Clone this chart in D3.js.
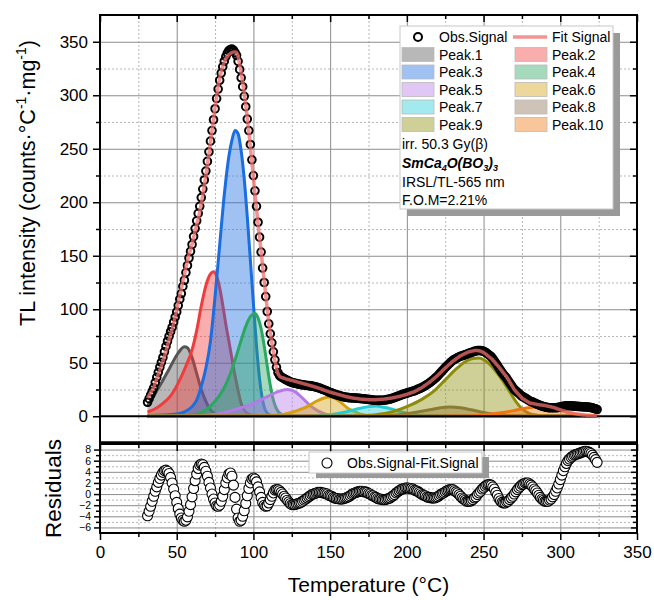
<!DOCTYPE html>
<html>
<head>
<meta charset="utf-8">
<script src="https://cdn.jsdelivr.net/npm/d3@7"></script>
<style>
  body { margin: 0; background: #fff; }
  svg { font-family: "Liberation Sans", Arial, sans-serif; }
</style>
</head>
<body>
<div id="chart"></div>
<script>
// TL glow curve, one reading per degree starting at 31 C
const tempStart = 31;

const obsSignal = [
  13.1,16.4,19.8,23.2,26.6,31.5,36.3,41.1,45.8,50.4,
  54.9,60.2,65.3,70.1,74.7,79,83,87.9,92.7,97.5,
  103.4,109.4,114.7,121.3,127.1,134.3,140.9,147.9,154.1,160.5,
  168,175.4,182.6,189.6,196.2,204.4,212.3,220.8,229.1,238.2,
  247.1,257.1,267,277.1,287.4,296.9,305.8,314,320.7,326.6,
  331.8,336,339.4,341.6,342.8,343.2,342.1,339.9,337.3,331.7,
  324.1,316.3,308,299,289.3,277.7,267,254,239.7,224.9,
  210.7,196.2,181.3,167.4,153.4,138.5,125,111.8,97.9,86.4,
  77,68.6,60.2,52.7,45.8,40.8,38.1,36.8,36,35.1,
  34.3,33.5,32.8,32.1,31.6,31.2,30.8,30.5,30.2,29.9,
  29.6,29.4,29.2,29,28.8,28.6,28.4,28.2,27.9,27.6,
  27.2,26.8,26.3,25.8,25.2,24.7,24.1,23.5,22.8,22.2,
  21.7,21.1,20.6,20.1,19.7,19.2,18.8,18.4,18.1,17.8,
  17.6,17.4,17.3,17.2,17.1,17,16.9,16.8,16.7,16.5,
  16.4,16.2,16.1,15.9,15.6,15.5,15.3,15.2,15,14.9,
  14.8,14.8,14.9,14.9,15,15.2,15.5,15.8,16.1,16.5,
  17,17.5,18.1,18.6,19.1,19.7,20.2,20.7,21.2,21.6,
  22.1,22.5,23,23.4,23.7,24.4,25.1,25.7,26.3,26.9,
  27.8,28.7,29.5,30.4,31.4,32.5,33.7,34.9,36.2,37.5,
  39.1,40.7,42.3,43.8,45.4,46.9,48.3,49.7,51,52.3,
  53.1,53.9,54.7,55.4,56.1,56.5,57,57.5,58,58.7,
  59.1,59.6,60.1,60.6,61,61.3,61.4,61.3,61.1,60.6,
  59.9,59,57.9,56.8,55.6,53.8,51.8,49.6,47.5,45.2,
  43,40.9,39,37.2,35.6,33.3,31.2,29.1,27,25,
  23.8,22.6,21.3,20,18.7,17.9,17.2,16.3,15.4,14.3,
  13.8,13.2,12.5,11.9,11.2,10.6,10,9.5,9.1,8.7,
  8.4,8.1,8,7.9,8,7.9,8,8.1,8.3,8.6,
  9,9.3,9.6,9.7,9.8,9.8,9.8,9.6,9.5,9.3,
  9.2,9.1,9,8.9,8.8,8.8,8.7,8.5,8.4,8.1,
  7.8,7.3,6.9,6.3
];

const fitSignal = [
  17,19.5,22,24.5,27,31,35,39,43,47,
  51,56,61,66,71,76,81,87,93,99,
  106,113,119,126,132,139,145,151,156,161,
  167,173,179,185,191,199,207,216,225,235,
  245,256,267,278,289,299,308,316,322,327,
  331,334,336.5,338,339,340,340.5,340.5,340,336,
  329,321,312,302,291,278,266,252,237,222,
  208,194,180,167,154,140,127,114,100,88,
  78,69,60,52,45,40,37.5,36.5,36,35.5,
  35,34.6,34.2,33.8,33.5,33.1,32.7,32.3,31.9,31.5,
  31.1,30.7,30.3,29.9,29.5,29.1,28.7,28.3,27.9,27.5,
  27,26.5,26,25.5,25,24.5,24,23.5,23,22.5,
  22.1,21.7,21.3,20.9,20.5,20.1,19.7,19.3,18.9,18.5,
  18.2,17.9,17.6,17.3,17,16.8,16.6,16.4,16.2,16,
  15.9,15.8,15.7,15.6,15.5,15.5,15.5,15.5,15.5,15.5,
  15.6,15.7,15.8,15.9,16,16.2,16.4,16.6,16.8,17,
  17.3,17.6,17.9,18.2,18.5,18.9,19.3,19.7,20.1,20.5,
  21,21.5,22,22.5,23,23.8,24.6,25.4,26.2,27,
  28,29,30,31,32,33.2,34.4,35.6,36.8,38,
  39.4,40.8,42.2,43.6,45,46.3,47.6,48.9,50.2,51.5,
  52.5,53.5,54.5,55.5,56.5,57.2,57.9,58.6,59.3,60,
  60.4,60.8,61.1,61.3,61.5,61.4,61.2,60.8,60.2,59.5,
  58.5,57.4,56.2,55.1,54,52.5,50.9,49.3,47.7,46,
  44.2,42.4,40.6,38.8,37,34.6,32.2,29.8,27.4,25,
  23.4,21.8,20.2,18.6,17,16.1,15.2,14.3,13.4,12.5,
  12.2,11.9,11.6,11.3,11,10.8,10.6,10.4,10.2,10,
  9.7,9.4,9.1,8.8,8.5,8,7.5,7,6.5,6,
  5.6,5.1,4.7,4.2,3.8,3.5,3.2,2.8,2.5,2.2,
  2,1.8,1.6,1.4,1.2,1.1,1,0.9,0.9,0.8,
  0.8,0.7,0.7,0.6
];

const residuals = [
  -3.9,-3.1,-2.2,-1.3,-0.4,0.5,1.3,2.1,2.8,3.4,3.9,4.2,4.3,
  4.1,3.7,3.0,2.0,0.9,-0.3,-1.5,-2.6,-3.6,-4.3,-4.7,-4.9,
  -4.7,-4.1,-3.1,-1.9,-0.5,1.0,2.4,3.6,4.6,5.2,5.4,
  5.3,4.8,4.1,3.2,2.1,1.1,0.0,-0.9,-1.6,-2.1,-2.2,
  -2.0,-1.3,-0.4,0.8,2.0,2.9,3.6,3.8,
  3.2,1.6,-0.6,-2.7,-4.3,-4.9,
  -4.7,-4.0,-3.0,-1.7,-0.3,1.0,2.0,2.7,2.9,
  2.7,2.2,1.3,0.4,-0.6,-1.5,-2.0,-2.2,
  -2.1,-1.6,-1.0,-0.4,0.2,0.7,0.8,
  0.8,0.6,0.3,0.0,-0.4,-0.7,-1.1,-1.4,-1.7,-1.9,-1.9,
  -1.9,-1.8,-1.7,-1.6,-1.5,-1.3,-1.1,-0.9,-0.7,-0.5,-0.3,-0.1,0.0,0.1,0.2,0.3,0.3,
  0.3,0.2,0.2,0.1,0.0,-0.2,-0.3,-0.4,-0.6,-0.7,-0.8,-0.8,-0.9,-0.9,
  -0.9,-0.8,-0.7,-0.6,-0.5,-0.3,-0.1,0.1,0.2,0.3,0.4,0.5,0.5,
  0.5,0.4,0.4,0.3,0.1,0.0,-0.2,-0.3,-0.5,-0.6,-0.8,-0.9,-0.9,-1.0,-1.0,
  -1.0,-0.9,-0.8,-0.7,-0.5,-0.3,-0.1,0.2,0.4,0.6,0.8,0.9,1.0,1.1,1.1,
  1.1,1.0,1.0,0.9,0.7,0.6,0.5,0.3,0.1,-0.1,-0.2,-0.3,-0.5,-0.6,-0.6,-0.7,-0.7,
  -0.7,-0.6,-0.5,-0.3,-0.1,0.1,0.2,0.4,0.6,0.7,0.8,0.8,
  0.8,0.6,0.4,0.2,-0.1,-0.4,-0.7,-0.9,-1.1,-1.3,-1.3,
  -1.3,-1.2,-1.0,-0.7,-0.5,-0.1,0.2,0.5,0.9,1.1,1.4,1.6,1.7,1.7,
  1.6,1.3,0.9,0.3,-0.2,-0.8,-1.2,-1.5,-1.6,
  -1.6,-1.4,-1.3,-1.0,-0.7,-0.4,0.0,0.4,0.8,1.1,1.4,1.7,1.8,2.0,2.0,
  2.0,1.8,1.6,1.3,0.9,0.6,0.2,-0.2,-0.6,-0.9,-1.1,-1.3,-1.3,
  -1.3,-1.1,-0.9,-0.5,-0.1,0.5,1.1,1.8,2.6,3.4,4.2,4.9,5.5,6.0,6.3,6.6,6.8,
  7.0,7.1,7.2,7.3,7.4,7.5,7.6,7.7,7.7,7.6,7.5,7.3,7.0,6.6,6.2,5.7
];

// deconvolved peaks, [temperature, intensity]
const peak1 = [[31,10],[35,19],[40,31],[45,44],[50,57],[53,63],[55,65],[57,64],[60,55],[63,40],[66,25],[69,14],[72,6],[75,2.5],[80,0.5],[90,0],[324,0]];
const peak2 = [[31,4],[36,7],[41,12],[46,19],[52,34],[56,47],[60,62],[63,80],[66,103],[69,122],[72,133],[74,135],[76,131],[78,120],[80,104],[82,86],[84,70],[86,54],[88,38],[90,24],[92,12],[95,4],[100,0.5],[110,0],[324,0]];
const peak3 = [[31,0.5],[50,2],[55,4],[60,9],[63,15],[66,28],[69,45],[72,70],[75,112],[78,160],[81,207],[84,243],[86,258],[88,267],[90,264],[92,248],[94,222],[96,186],[98,146],[100,105],[102,66],[104,35],[106,15],[108,5],[111,1],[116,0],[324,0]];
const peak4 = [[31,0],[55,0.3],[60,1],[65,3],[70,7],[75,14],[80,24],[85,40],[89,57],[92,71],[95,84],[98,93],[101,96],[103,92],[105,82],[107,66],[109,47],[111,29],[113,15],[115,7],[118,2],[122,0.5],[130,0],[324,0]];
const peak5 = [[31,0],[60,0.3],[70,1],[80,3],[90,7],[100,12],[110,19],[116,23],[122,25],[127,23],[132,17],[137,10],[142,5],[147,2],[155,0.5],[165,0],[324,0]];
const peak6 = [[31,0],[100,0.2],[110,0.6],[120,2],[128,5],[135,9],[141,14],[146,17],[150,18],[153,17],[157,13],[161,8],[165,5],[170,2],[178,0.5],[190,0],[324,0]];
const peak7 = [[31,0],[130,0],[140,0.3],[150,1.5],[160,4],[168,7],[175,9],[180,9.5],[185,8.5],[192,6],[198,3.5],[205,1.5],[215,0.3],[225,0],[324,0]];
const peak8 = [[31,0],[170,0],[180,0.3],[195,1.5],[205,3.5],[215,6],[222,8],[228,8.7],[235,8],[242,6],[250,3.5],[258,1.5],[268,0.4],[280,0],[324,0]];
const peak9 = [[31,0],[160,0],[170,0.5],[180,1.5],[190,4],[200,9],[210,16],[218,24],[225,34],[232,44],[238,51],[243,54],[247,54.5],[251,52],[255,47],[259,40],[263,32],[267,23],[271,14],[275,7],[280,2.5],[285,1],[290,0.4],[300,0],[324,0]];
const peak10 = [[31,0],[220,0],[230,0.2],[245,0.8],[255,2],[265,4],[272,6],[278,7.8],[284,8.7],[290,8.5],[295,7.5],[300,5.6],[305,3.6],[310,2.1],[315,1.1],[320,0.7],[324,0.5]];

const peakSeries = [peak1, peak2, peak3, peak4, peak5, peak6, peak7, peak8, peak9, peak10];
const peakNames = ["Peak.1", "Peak.2", "Peak.3", "Peak.4", "Peak.5", "Peak.6", "Peak.7", "Peak.8", "Peak.9", "Peak.10"];
const peakColors = ["#555555", "#f03c3c", "#1a6ee0", "#2aa862", "#b47ae6", "#d4a010", "#22ccd4", "#8c6e52", "#8c8c0a", "#f07410"];

const xTicks = [0, 50, 100, 150, 200, 250, 300, 350];
const yTicks = [0, 50, 100, 150, 200, 250, 300, 350];
const residTicks = [-6, -4, -2, 0, 2, 4, 6, 8];

const width = 654, height = 600;
const svg = d3.select("#chart").append("svg")
    .attr("width", width)
    .attr("height", height);

const x = d3.scaleLinear().domain([0, 350]).range([100, 637]);
const y = d3.scaleLinear().domain([-25, 375]).range([443, 15]);
const yr = d3.scaleLinear().domain([-7, 9]).range([533, 444]);

const temps = d3.range(tempStart, tempStart + obsSignal.length);
const plotW = x(350) - x(0);

// ---------- grids ----------
function grid(axis, tx, ty, dotted) {
    const g = svg.append("g").attr("transform", `translate(${tx},${ty})`).call(axis);
    g.select(".domain").remove();
    g.selectAll("line")
        .attr("stroke", dotted ? "#b8b8b8" : "#8c8c8c")
        .attr("stroke-width", 1)
        .attr("stroke-dasharray", dotted ? "2,2" : null);
}
const majX = d3.range(50, 350, 50), minX = d3.range(25, 350, 50);
grid(d3.axisBottom(x).tickValues(majX).tickSize(-(y(-25) - y(375))).tickFormat(""), 0, y(-25), false);
grid(d3.axisBottom(x).tickValues(minX).tickSize(-(y(-25) - y(375))).tickFormat(""), 0, y(-25), true);
grid(d3.axisLeft(y).tickValues(d3.range(50, 375, 50)).tickSize(-plotW).tickFormat(""), x(0), 0, false);
grid(d3.axisLeft(y).tickValues(d3.range(25, 375, 50)).tickSize(-plotW).tickFormat(""), x(0), 0, true);
grid(d3.axisBottom(x).tickValues(majX).tickSize(-(yr(-7) - yr(9))).tickFormat(""), 0, yr(-7), false);
grid(d3.axisBottom(x).tickValues(minX).tickSize(-(yr(-7) - yr(9))).tickFormat(""), 0, yr(-7), true);
grid(d3.axisLeft(yr).tickValues(d3.range(-6, 9, 2)).tickSize(-plotW).tickFormat(""), x(0), 0, false);
grid(d3.axisLeft(yr).tickValues(d3.range(-5, 9, 2)).tickSize(-plotW).tickFormat(""), x(0), 0, true);

// ---------- main panel ----------
svg.append("clipPath").attr("id", "clipMain")
    .append("rect").attr("x", x(0)).attr("y", y(375)).attr("width", plotW).attr("height", y(-25) - y(375));

const plot = svg.append("g").attr("clip-path", "url(#clipMain)");

const area = d3.area()
    .x(d => x(d[0])).y0(y(0)).y1(d => y(d[1]))
    .curve(d3.curveMonotoneX);
const peakLine = d3.line()
    .x(d => x(d[0])).y(d => y(d[1]))
    .curve(d3.curveMonotoneX);

peakSeries.forEach((pk, i) => {
    plot.append("path").attr("d", area(pk))
        .attr("fill", peakColors[i]).attr("fill-opacity", 0.42);
    plot.append("path").attr("d", peakLine(pk))
        .attr("fill", "none").attr("stroke", peakColors[i]).attr("stroke-width", 3);
});

// zero line
plot.append("line")
    .attr("x1", x(0)).attr("x2", x(350)).attr("y1", y(0)).attr("y2", y(0))
    .attr("stroke", "#000").attr("stroke-width", 2);

plot.selectAll("circle.obs")
    .data(obsSignal)
    .enter()
    .append("circle")
    .attr("class", "obs")
    .attr("cx", (d, i) => x(temps[i]))
    .attr("cy", d => y(d))
    .attr("r", 3.8)
    .attr("fill", "none")
    .attr("stroke", "#000")
    .attr("stroke-width", 2);

const fitLine = d3.line()
    .x((d, i) => x(temps[i])).y(d => y(d))
    .curve(d3.curveMonotoneX);
plot.append("path").attr("d", fitLine(fitSignal))
    .attr("fill", "none").attr("stroke", "#f26d6d").attr("stroke-opacity", 0.75)
    .attr("stroke-width", 3.5);

// ---------- residual panel ----------
svg.append("clipPath").attr("id", "clipRes")
    .append("rect").attr("x", x(0)).attr("y", yr(9)).attr("width", plotW).attr("height", yr(-7) - yr(9));

svg.append("g").attr("clip-path", "url(#clipRes)")
    .selectAll("circle")
    .data(residuals)
    .enter()
    .append("circle")
    .attr("cx", (d, i) => x(temps[i]))
    .attr("cy", d => yr(d))
    .attr("r", 5)
    .attr("fill", "#fff")
    .attr("stroke", "#000")
    .attr("stroke-width", 1.1);

// ---------- axes ----------
function styleAxis(g) {
    g.select(".domain").remove();
    g.selectAll("line").attr("stroke", "#000").attr("stroke-width", 1.5);
    g.selectAll("text").attr("fill", "#000");
}

// main left
svg.append("g").attr("transform", `translate(${x(0)},0)`)
    .call(d3.axisLeft(y).tickValues(yTicks).tickSize(7).tickPadding(5))
    .call(styleAxis)
    .selectAll("text").attr("font-size", 17);
svg.append("g").attr("transform", `translate(${x(0)},0)`)
    .call(d3.axisLeft(y).tickValues(d3.range(25, 375, 50)).tickSize(4).tickFormat(""))
    .call(styleAxis);
// main right (ticks inward)
svg.append("g").attr("transform", `translate(${x(350)},0)`)
    .call(d3.axisLeft(y).tickValues(yTicks).tickSize(7).tickFormat(""))
    .call(styleAxis);
svg.append("g").attr("transform", `translate(${x(350)},0)`)
    .call(d3.axisLeft(y).tickValues(d3.range(25, 375, 50)).tickSize(4).tickFormat(""))
    .call(styleAxis);
// main top (inward)
svg.append("g").attr("transform", `translate(0,${y(375)})`)
    .call(d3.axisBottom(x).tickValues(xTicks).tickSize(7).tickFormat(""))
    .call(styleAxis);
svg.append("g").attr("transform", `translate(0,${y(375)})`)
    .call(d3.axisBottom(x).tickValues(minX).tickSize(4).tickFormat(""))
    .call(styleAxis);
// residual top (inward)
svg.append("g").attr("transform", `translate(0,${yr(9)})`)
    .call(d3.axisBottom(x).tickValues(xTicks).tickSize(7).tickFormat(""))
    .call(styleAxis);
svg.append("g").attr("transform", `translate(0,${yr(9)})`)
    .call(d3.axisBottom(x).tickValues(minX).tickSize(4).tickFormat(""))
    .call(styleAxis);
// residual bottom
svg.append("g").attr("transform", `translate(0,${yr(-7)})`)
    .call(d3.axisBottom(x).tickValues(xTicks).tickSize(7).tickPadding(6))
    .call(styleAxis)
    .selectAll("text").attr("font-size", 17);
svg.append("g").attr("transform", `translate(0,${yr(-7)})`)
    .call(d3.axisBottom(x).tickValues(minX).tickSize(4).tickFormat(""))
    .call(styleAxis);
// residual left
svg.append("g").attr("transform", `translate(${x(0)},0)`)
    .call(d3.axisLeft(yr).tickValues(residTicks).tickSize(6).tickPadding(3))
    .call(styleAxis)
    .selectAll("text").attr("font-size", 10.5);
svg.append("g").attr("transform", `translate(${x(0)},0)`)
    .call(d3.axisLeft(yr).tickValues(d3.range(-5, 9, 2)).tickSize(4).tickFormat(""))
    .call(styleAxis);
// residual right (inward)
svg.append("g").attr("transform", `translate(${x(350)},0)`)
    .call(d3.axisLeft(yr).tickValues(residTicks).tickSize(6).tickFormat(""))
    .call(styleAxis);
svg.append("g").attr("transform", `translate(${x(350)},0)`)
    .call(d3.axisLeft(yr).tickValues(d3.range(-5, 9, 2)).tickSize(4).tickFormat(""))
    .call(styleAxis);

// frames
svg.append("rect")
    .attr("x", x(0)).attr("y", y(375)).attr("width", plotW).attr("height", y(-25) - y(375))
    .attr("fill", "none").attr("stroke", "#000").attr("stroke-width", 2);
svg.append("rect")
    .attr("x", x(0)).attr("y", yr(9)).attr("width", plotW).attr("height", yr(-7) - yr(9))
    .attr("fill", "none").attr("stroke", "#000").attr("stroke-width", 2);
svg.append("line")
    .attr("x1", x(0)).attr("x2", x(350)).attr("y1", y(-25)).attr("y2", y(-25))
    .attr("stroke", "#000").attr("stroke-width", 3.5);

// ---------- axis titles ----------
const yTitle = svg.append("text")
    .attr("transform", "translate(35,183) rotate(-90)")
    .attr("text-anchor", "middle")
    .attr("font-size", 21.5);
yTitle.append("tspan").text("TL intensity (counts·°C");
yTitle.append("tspan").attr("font-size", 14).attr("dy", -9).text("-1");
yTitle.append("tspan").attr("dy", 9).text("·mg");
yTitle.append("tspan").attr("font-size", 14).attr("dy", -9).text("-1");
yTitle.append("tspan").attr("dy", 9).text(")");

svg.append("text")
    .attr("transform", `translate(61,${(yr(9) + yr(-7)) / 2}) rotate(-90)`)
    .attr("text-anchor", "middle")
    .attr("font-size", 22.5)
    .text("Residuals");

svg.append("text")
    .attr("x", (x(0) + x(350)) / 2).attr("y", 592)
    .attr("text-anchor", "middle")
    .attr("font-size", 21)
    .text("Temperature (°C)");

// ---------- main legend ----------
const lg = svg.append("g").attr("transform", "translate(400,26)");
lg.append("rect").attr("x", 7).attr("y", 7).attr("width", 213).attr("height", 183).attr("fill", "#9a9a9a");
lg.append("rect").attr("width", 213).attr("height", 183).attr("fill", "#fff").attr("stroke", "#c8c8c8");

const rowH = 17.5;
lg.append("circle").attr("cx", 18).attr("cy", 11).attr("r", 4).attr("fill", "none").attr("stroke", "#000").attr("stroke-width", 2);
lg.append("text").attr("x", 39).attr("y", 16).attr("font-size", 14).text("Obs.Signal");
lg.append("line").attr("x1", 113).attr("x2", 147).attr("y1", 11).attr("y2", 11)
    .attr("stroke", "#f26d6d").attr("stroke-opacity", 0.75).attr("stroke-width", 3.5);
lg.append("text").attr("x", 152).attr("y", 16).attr("font-size", 14).text("Fit Signal");

peakNames.forEach((name, i) => {
    const col = i % 2, row = Math.floor(i / 2) + 1;
    const gx = col === 0 ? 2 : 115;
    const gy = 11 + row * rowH;
    lg.append("rect").attr("x", gx).attr("y", gy - 7).attr("width", 32).attr("height", 14)
        .attr("fill", peakColors[i]).attr("fill-opacity", 0.42)
        .attr("stroke", "#bbb").attr("stroke-width", 0.8);
    lg.append("text").attr("x", gx + 37).attr("y", gy + 5).attr("font-size", 14).text(name);
});

lg.append("text").attr("x", 2).attr("y", 123).attr("font-size", 14).text("irr. 50.3 Gy(β)");
const formula = lg.append("text").attr("x", 2).attr("y", 142).attr("font-size", 14)
    .attr("font-weight", "bold").attr("font-style", "italic");
formula.append("tspan").text("SmCa");
formula.append("tspan").attr("font-size", 9).attr("dy", 3).text("4");
formula.append("tspan").attr("dy", -3).text("O(BO");
formula.append("tspan").attr("font-size", 9).attr("dy", 3).text("3");
formula.append("tspan").attr("dy", -3).text(")");
formula.append("tspan").attr("font-size", 9).attr("dy", 3).text("3");
lg.append("text").attr("x", 2).attr("y", 161).attr("font-size", 14).text("IRSL/TL-565 nm");
lg.append("text").attr("x", 2).attr("y", 179).attr("font-size", 14).text("F.O.M=2.21%");

// ---------- residual legend ----------
const rl = svg.append("g").attr("transform", "translate(309,452)");
rl.append("rect").attr("x", 7).attr("y", 5).attr("width", 173).attr("height", 21).attr("fill", "#9a9a9a");
rl.append("rect").attr("width", 173).attr("height", 21).attr("fill", "#fff").attr("stroke", "#c8c8c8");
rl.append("circle").attr("cx", 18).attr("cy", 11).attr("r", 5).attr("fill", "#fff").attr("stroke", "#000").attr("stroke-width", 1.1);
rl.append("text").attr("x", 38).attr("y", 16).attr("font-size", 14).text("Obs.Signal-Fit.Signal");
</script>
</body>
</html>
